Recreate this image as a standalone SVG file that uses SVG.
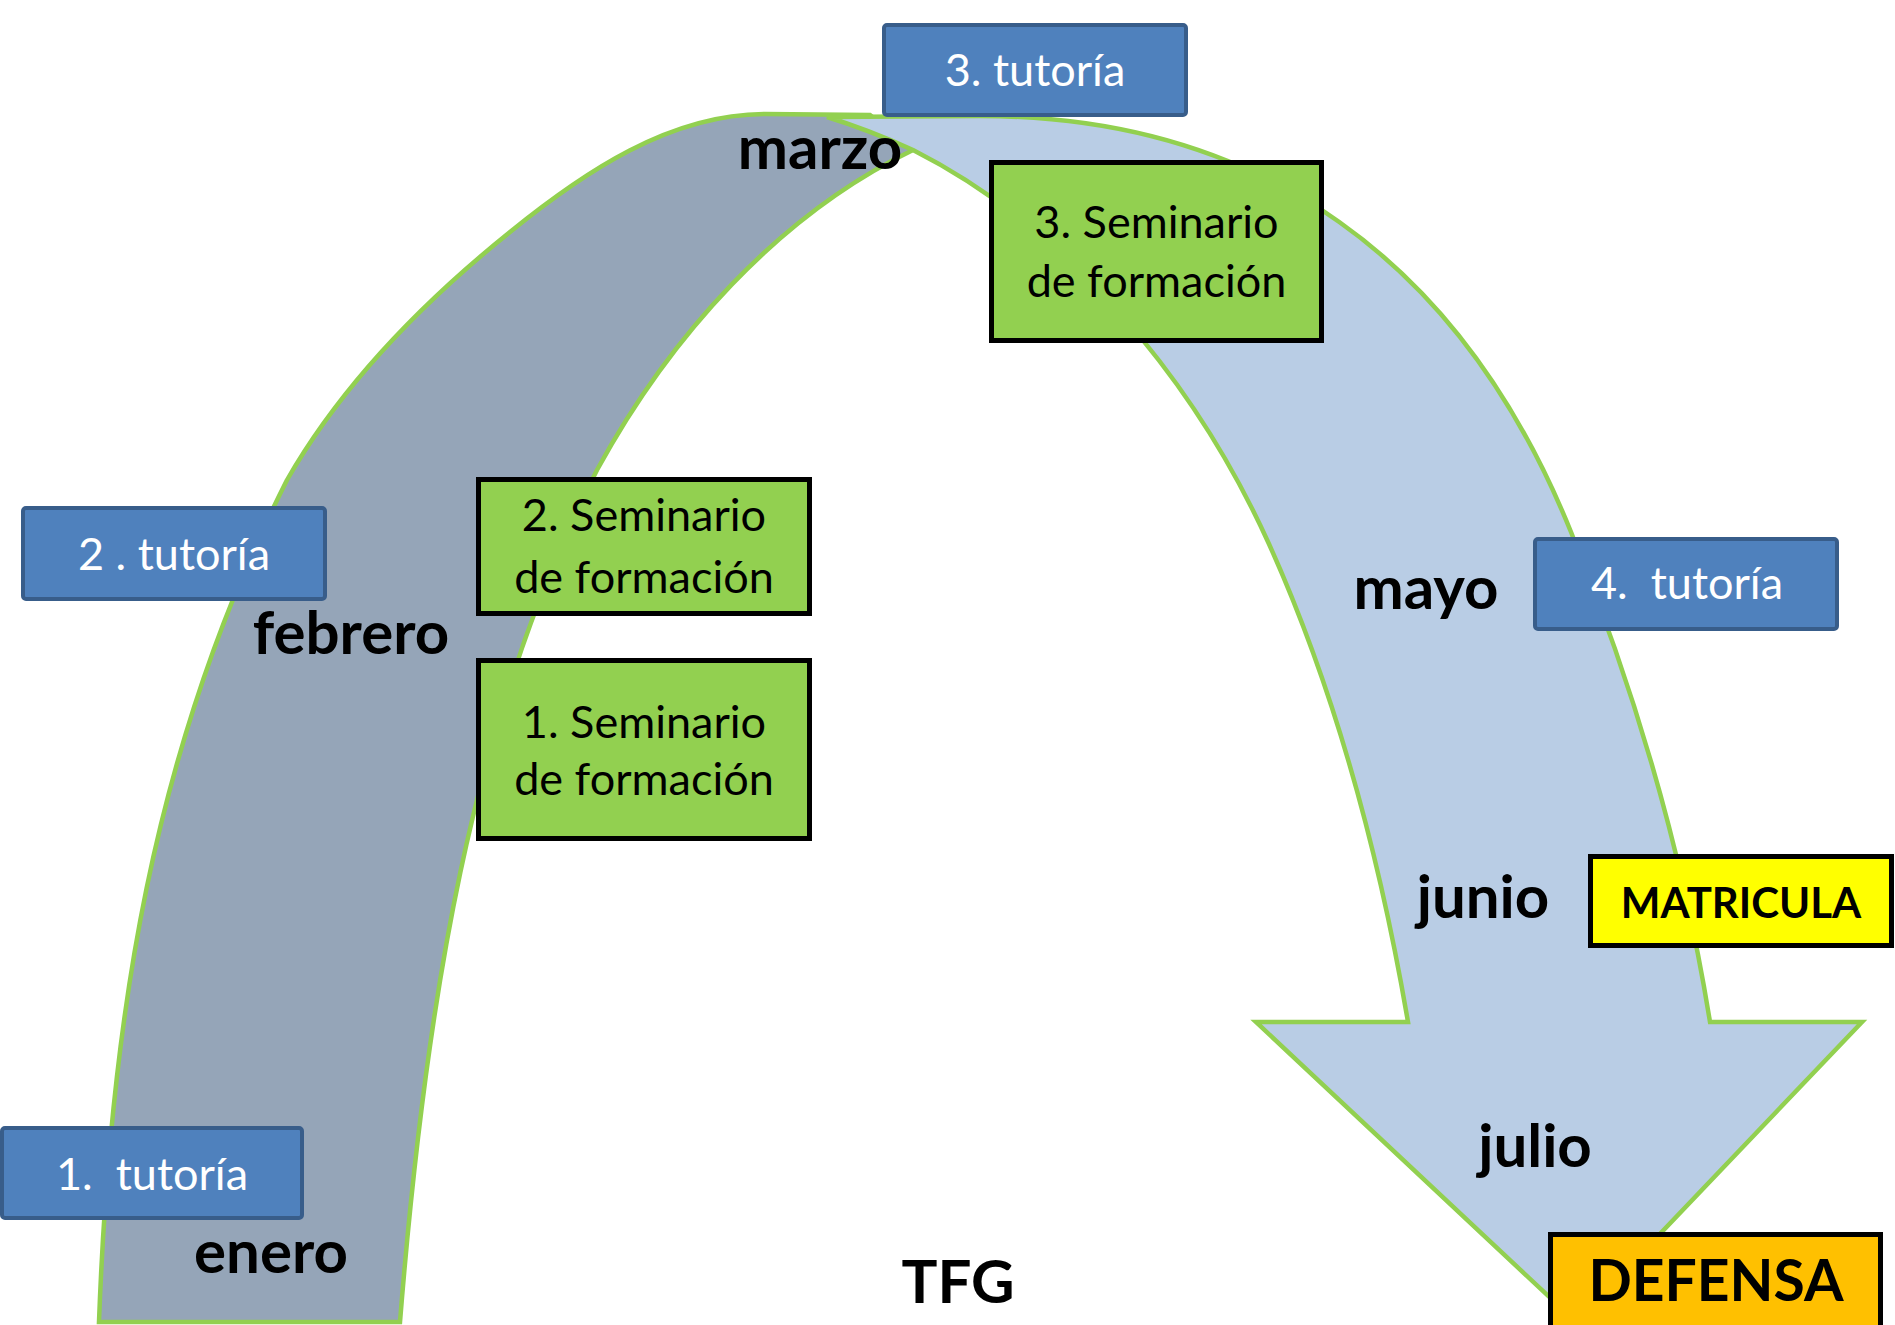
<svg xmlns="http://www.w3.org/2000/svg" width="1895" height="1325" viewBox="0 0 1895 1325">
<style>
.band{stroke:#92D050;stroke-width:4.5;stroke-linejoin:miter}
.tut rect{fill:#4F81BD;stroke:#385D8A;stroke-width:4}
.tut text{fill:#FFFFFF;font-family:Lato,"Liberation Sans",sans-serif;font-size:45px;text-anchor:middle}
.sem rect{fill:#92D050;stroke:#000;stroke-width:5}
.sem text{fill:#000;font-family:Lato,"Liberation Sans",sans-serif;font-size:45px;text-anchor:middle}
.key rect{stroke:#000;stroke-width:5}
.key text{fill:#000;font-family:Lato,"Liberation Sans",sans-serif;font-weight:bold;text-anchor:middle}
.month{fill:#000;font-family:Lato,"Liberation Sans",sans-serif;font-weight:bold;font-size:60px;text-anchor:middle}
</style>
<rect width="1895" height="1325" fill="#FFFFFF"/>
<g id="connectors">
<path id="band-grey" class="band" fill="#95A5B8" d="M99,1322 C110,1022 152,747 287,480 C342,384 423,302 510,232 C584,172 670,114 765,114 L870,115 L913,150 C778,215 669,338 597,470 C470,720 425,1010 400,1322 Z"/>
<path id="band-blue" class="band" fill="#B9CDE5" d="M827,117 L980,116 C1260,116 1461,260 1571,532 C1635,690 1683,854 1710,1022 L1862,1022 L1576,1322 L1256,1022 L1408,1022 C1380,858 1337,695 1269,544 C1196,383 1071,230 913,150 C880,135 850,124 827,117 Z"/>
</g>
<g id="tutoria-3" class="tut"><rect x="884" y="25" width="302" height="90" rx="3"/><text x="1035" y="86">3. tutoría</text></g>
<g id="tutoria-2" class="tut"><rect x="23" y="508" width="302" height="91" rx="3"/><text x="174" y="570">2 . tutoría</text></g>
<g id="tutoria-1" class="tut"><rect x="2" y="1128" width="300" height="90" rx="3"/><text x="152" y="1190" xml:space="preserve">1.  tutoría</text></g>
<g id="tutoria-4" class="tut"><rect x="1535" y="539" width="302" height="90" rx="3"/><text x="1687" y="599" xml:space="preserve">4.  tutoría</text></g>
<g id="seminario-3" class="sem"><rect x="991.5" y="162.5" width="330" height="178"/><text x="1156.5" y="238">3. Seminario</text><text x="1156.5" y="297">de formación</text></g>
<g id="seminario-2" class="sem"><rect x="478.5" y="479.5" width="331" height="134"/><text x="644" y="531">2. Seminario</text><text x="644" y="593">de formación</text></g>
<g id="seminario-1" class="sem"><rect x="478.5" y="660.5" width="331" height="178"/><text x="644" y="738">1. Seminario</text><text x="644" y="795">de formación</text></g>
<g id="matricula" class="key"><rect x="1590.5" y="856.5" width="301" height="89" fill="#FFFF00"/><text x="1741" y="918" font-size="42">MATRICULA</text></g>
<g id="defensa" class="key"><rect x="1550.5" y="1234.5" width="330" height="100" fill="#FFC000"/><text x="1716" y="1301" font-size="57">DEFENSA</text></g>
<g id="labels">
<text class="month" x="820" y="169">marzo</text>
<text class="month" x="351" y="654">febrero</text>
<text class="month" x="271" y="1273">enero</text>
<text class="month" x="1426" y="609">mayo</text>
<text class="month" x="1483" y="918">junio</text>
<text class="month" x="1535" y="1167">julio</text>
<text class="month" x="958" y="1303" font-size="69">TFG</text>
</g>
</svg>
